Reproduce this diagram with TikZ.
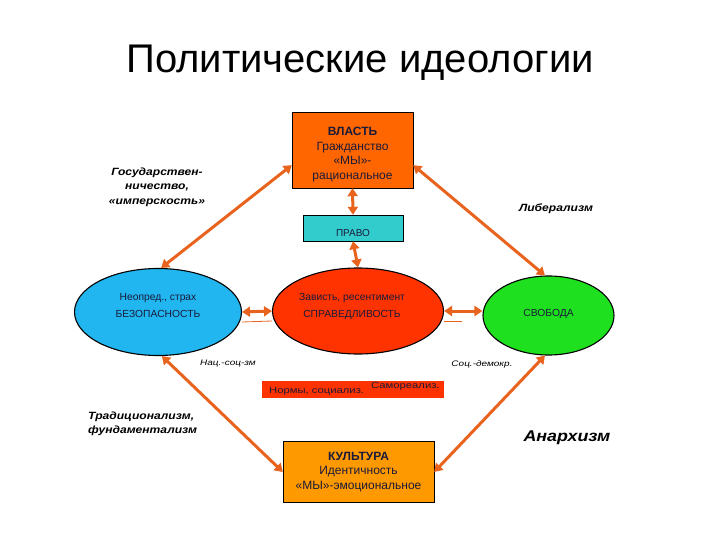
\documentclass[tikz,border=0pt]{standalone}
\usepackage{fontspec}
\setmainfont{Liberation Sans}
\newfontfamily\widefont[FakeStretch=1.25]{Liberation Sans}
\newfontfamily\notefont[FakeStretch=1.15]{Liberation Sans}
\usetikzlibrary{positioning,arrows.meta,shapes.geometric}
\definecolor{vlastc}{HTML}{FF6600}
\definecolor{pravoc}{HTML}{33CCCC}
\definecolor{bezopc}{HTML}{21B6F0}
\definecolor{spravc}{HTML}{FF3300}
\definecolor{svobodac}{HTML}{1EE01E}
\definecolor{kulturac}{HTML}{FF9900}
\definecolor{arrowc}{HTML}{E8641E}
\definecolor{textc}{HTML}{1A1A3A}

\begin{document}
\begin{tikzpicture}[
    x=1pt, y=-1pt,
    box/.style={
        draw,
        align=center,
        inner sep=2pt,
        text=textc,
        font=\fontsize{12}{14.5}\selectfont
    },
    oval/.style={
        ellipse,
        draw,
        line width=1.1pt,
        inner sep=0pt,
        align=center,
        text=textc,
        font=\fontsize{10.3}{17}\selectfont
    },
    note/.style={font=\notefont\bfseries\itshape\fontsize{10.5}{14.5}\selectfont, align=center, inner sep=0pt},
    small/.style={font=\widefont\itshape\fontsize{8}{10}\selectfont, inner sep=0pt},
    normtxt/.style={font=\widefont\fontsize{9}{11}\selectfont, text=textc, inner sep=0pt, anchor=base west},
    line/.style={<->, >={Triangle[width=10pt,length=8pt]}, line width=3pt, draw=arrowc},
    thinline/.style={draw=arrowc, line width=0.8pt}
]
\useasboundingbox (0,0) rectangle (720,540);

\node[font=\fontsize{40}{48}\selectfont, anchor=base] (title) at (360,73) {Политические идеологии};

\node[box, fill=vlastc, minimum width=121pt, minimum height=76pt] (vlast) at (352.5,150)
    {\rule{0pt}{17pt}\textbf{ВЛАСТЬ}\\Гражданство\\«МЫ»-\\рациональное};
\node[box, fill=pravoc, minimum width=100pt, minimum height=26pt, font=\fontsize{10}{12}\selectfont] (pravo) at (353,228)
    {\rule{0pt}{17pt}ПРАВО};

\node[oval, fill=bezopc, minimum width=167pt, minimum height=87pt] (bezop) at (158,312)
    {Неопред., страх\\БЕЗОПАСНОСТЬ\rule[-14pt]{0pt}{1pt}};
\node[oval, fill=spravc, minimum width=171pt, minimum height=86pt] (sprav) at (358,311)
    {Зависть, ресентимент\hspace*{12pt}\\СПРАВЕДЛИВОСТЬ\hspace*{12pt}\rule[-12pt]{0pt}{1pt}};
\node[oval, fill=svobodac, minimum width=131pt, minimum height=79pt] (svoboda) at (548.5,315.5)
    {СВОБОДА\rule[-5pt]{0pt}{1pt}};

\node[fill=spravc, minimum width=182pt, minimum height=17pt, inner sep=0pt] (normy) at (353,389.5) {};
\node[normtxt] (normy1) at (269,393) {Нормы, социализ.};
\node[normtxt] (normy2) at (371,388) {Самореализ.};

\node[box, fill=kulturac, minimum width=151pt, minimum height=61pt] (kultura) at (358.5,472)
    {\textbf{КУЛЬТУРА}\\Идентичность\\«МЫ»-эмоциональное};

% ideologies
\node[note] (gos) at (157,187) {Государствен-\\ничество,\\«имперскость»};
\node[note] (liberal) at (556,209) {Либерализм};
\node[small] (natsoc) at (228,364) {Нац.-соц-зм};
\node[small] (socdem) at (482,364) {Соц.-демокр.};
\node[note, align=left, anchor=west] (trad) at (88,424) {Традиционализм,\\фундаментализм};
\node[note, font=\notefont\bfseries\itshape\fontsize{15.5}{18}\selectfont] (anarh) at (567,438) {Анархизм};

\draw[line] (vlast.south) -- (pravo.north);
\draw[line] (pravo.south) -- (sprav.north);
\draw[line] (bezop.east) -- (sprav.west);
\draw[line] (sprav.east) -- (sprav.east -| svoboda.west);
\draw[line] (vlast.194) -- (bezop.86);
\draw[line] (vlast.-14) -- (svoboda.95);
\draw[line] (bezop.-85) -- (kultura.west);
\draw[line] (svoboda.-95) -- (kultura.east);

\draw[thinline] ([yshift=-10pt]bezop.east) -- ([yshift=-10pt]sprav.west);
\draw[thinline] ([yshift=-10pt]sprav.east) -- ([xshift=18pt,yshift=-10pt]sprav.east);

\end{tikzpicture}
\end{document}
